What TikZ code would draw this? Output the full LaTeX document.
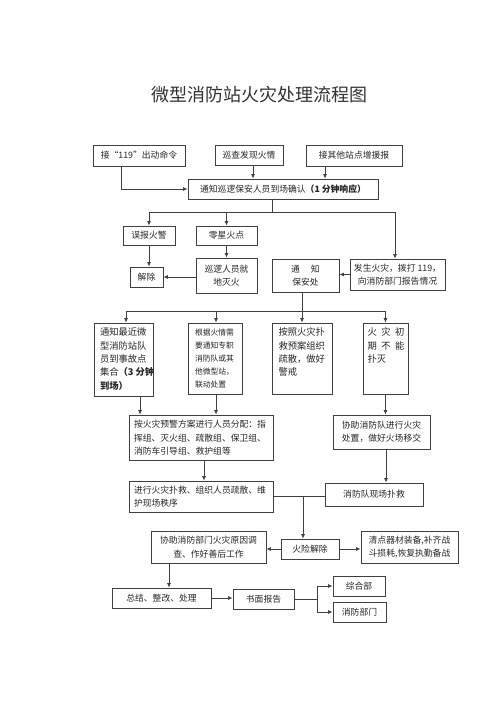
\documentclass[tikz,border=0pt]{standalone}
\usepackage{fontspec}
\setmainfont{Noto Sans CJK SC}
\usetikzlibrary{arrows.meta,calc}
\tikzset{
  box/.style={draw=black!75, line width=0.8pt, fill=white, inner sep=0pt, align=center,
    font=\fontsize{8.8}{13.3}\selectfont, text=black!85},
  arr/.style={draw=black!75, line width=0.8pt, -{Latex[length=4.5pt,width=4pt]}},
  ln/.style={draw=black!75, line width=0.8pt},
}
\newcommand{\bx}[3]{\parbox[c][#2][t]{#1}{\begin{tabular}{@{}l@{}}#3\end{tabular}}}
\begin{document}
\begin{tikzpicture}[x=1pt,y=-1pt]
\path[fill=white,use as bounding box] (0,0) rectangle (500,707);
\node[text=black!80] (title) at (259,95) {\fontsize{18}{20}\selectfont 微型消防站火灾处理流程图};
% row 1
\node[box,minimum width=92pt,minimum height=21pt] (n119) at (139,155.5) {接“119”出动命令};
\node[box,minimum width=68pt,minimum height=20pt] (xc) at (249,155) {巡查发现火情};
\node[box,minimum width=96pt,minimum height=21pt] (zy) at (354,155.5) {接其他站点增援报};
\node[box,minimum width=190pt,minimum height=20pt] (main) at (283,189) {通知巡逻保安人员到场确认\textbf{（1 分钟响应）}};
% row 2
\node[box,minimum width=52pt,minimum height=19pt] (wb) at (149,235.5) {误报火警};
\node[box,minimum width=61pt,minimum height=19pt] (lx) at (226.5,235.5) {零星火点};
\node[box,minimum width=33pt,minimum height=20pt] (jc) at (146.5,277) {解除};
\node[box,minimum width=61pt,minimum height=35pt] (xl) at (226.5,275.5) {巡逻人员就\\地灭火};
\node[box,minimum width=67pt,minimum height=33pt] (tz) at (305.5,275.5) {通\hspace{11pt}知\\保安处};
\node[box,minimum width=95pt,minimum height=31pt] (fs) at (397.5,274.5) {发生火灾，拨打 119，\\向消防部门报告情况};
% row 3
\node[box,minimum width=59pt,minimum height=73pt,font=\fontsize{9.3}{13.3}\selectfont] (b1) at (123.5,359.5)
  {\bx{47pt}{66pt}{通知最近微\\型消防站队\\员到事故点\\集合\textbf{（3 分钟}\\\textbf{到场）}}};
\node[box,minimum width=54pt,minimum height=71pt,font=\fontsize{7.8}{13}\selectfont] (b2) at (215,358.5)
  {\bx{40pt}{64pt}{根据火情需\\要通知专职\\消防队或其\\他微型站，\\联动处置}};
\node[box,minimum width=60pt,minimum height=71pt,font=\fontsize{9.3}{13.3}\selectfont] (b3) at (302,358.5)
  {\bx{47pt}{64pt}{按照火灾扑\\救预案组织\\疏散，做好\\警戒}};
\node[box,minimum width=45pt,minimum height=71pt,font=\fontsize{9.3}{13.3}\selectfont] (b4) at (385.5,358.5)
  {\bx{36pt}{64pt}{火\hspace{4.5pt}灾\hspace{4.5pt}初\\期\hspace{4.5pt}不\hspace{4.5pt}能\\扑灭}};
% row 4
\node[box,minimum width=144pt,minimum height=45pt] (fp) at (201,437.5)
  {\bx{134pt}{38pt}{按火灾预警方案进行人员分配：指\\挥组、灭火组、疏散组、保卫组、\\消防车引导组、救护组等}};
\node[box,minimum width=97pt,minimum height=34pt] (xz) at (381.5,432) {协助消防队进行火灾\\处置，做好火场移交};
\node[box,minimum width=144pt,minimum height=31pt] (jx) at (201,496.5)
  {\bx{134pt}{25pt}{进行火灾扑救、组织人员疏散、维\\护现场秩序}};
\node[box,minimum width=98pt,minimum height=23pt] (xfd) at (374,494.5) {消防队现场扑救};
% row 5
\node[box,minimum width=58pt,minimum height=20pt] (hx) at (310,549) {火险解除};
\node[box,minimum width=115pt,minimum height=32pt] (xzb) at (208.5,547) {协助消防部门火灾原因调\\查、作好善后工作};
\node[box,minimum width=97pt,minimum height=32pt] (qd) at (409.5,547) {清点器材装备,补齐战\\斗损耗,恢复执勤备战};
% row 6
\node[box,minimum width=99pt,minimum height=20pt] (zj) at (161.5,598) {总结、整改、处理};
\node[box,minimum width=61pt,minimum height=20pt] (sm) at (263.5,599) {书面报告};
\node[box,minimum width=52pt,minimum height=20pt] (zh) at (359,586) {综合部};
\node[box,minimum width=53pt,minimum height=20pt] (xf) at (359.5,612) {消防部门};
% connectors
\draw[arr] ([xshift=-18pt]n119.south) |- (main.west);
\draw[arr] ([xshift=4pt]xc.south) -- ([xshift=4pt]xc.south |- main.north);
\draw[arr] ([xshift=-29pt]zy.south) -- ([xshift=-29pt]zy.south |- main.north);
\coordinate (j1) at (272,212);
\draw[ln] ([xshift=-11pt]main.south) -- (j1);
\draw[arr] (j1) -| (wb.north);
\draw[arr] (j1) -| (lx.north);
\draw[arr] (j1) -| ([xshift=-2.5pt]fs.north);
\draw[arr] (wb.south) -- (wb.south |- jc.north);
\draw[arr] (lx.south) -- (xl.north);
\draw[arr] (xl.west |- jc.east) -- (jc.east);
\draw[arr] (fs.west) -- (tz.east |- fs.west);
\coordinate (j2) at (302,311);
\draw[ln] (tz.south -| j2) -- (j2);
\draw[arr] (j2) -| ([xshift=2.5pt]b1.north);
\draw[arr] (j2) -| ([xshift=1pt]b2.north);
\draw[arr] (j2) -- (b3.north);
\draw[arr] (j2) -| (b4.north);
\draw[arr] ([xshift=16.5pt]b1.south) -- ([xshift=16.5pt]b1.south |- fp.north);
\draw[arr] ([xshift=1pt]b2.south) -- ([xshift=1pt]b2.south |- fp.north);
\draw[arr] (b4.south) -- (b4.south |- xz.north);
\draw[arr] ([xshift=3pt]fp.south) -- ([xshift=3pt]fp.south |- jx.north);
\draw[arr] ([xshift=4.5pt]xz.south) -- ([xshift=4.5pt]xz.south |- xfd.north);
\draw[ln] (jx.east) -- (jx.east -| xfd.west);
\coordinate (j3) at (303,496.5);
\draw[arr] (j3) -- (j3 |- hx.north);
\draw[arr] (hx.west) -- (hx.west -| xzb.east);
\draw[arr] (hx.east) -- (hx.east -| qd.west);
\draw[arr] ([xshift=-39.5pt]xzb.south) -- ([xshift=-39.5pt]xzb.south |- zj.north);
\draw[arr] (zj.east) -- (zj.east -| sm.west);
\coordinate (j4) at (317,599);
\draw[ln] (sm.east) -- (j4);
\draw[arr] (j4) |- (zh.west);
\draw[arr] (j4) |- (xf.west);
\end{tikzpicture}
\end{document}
